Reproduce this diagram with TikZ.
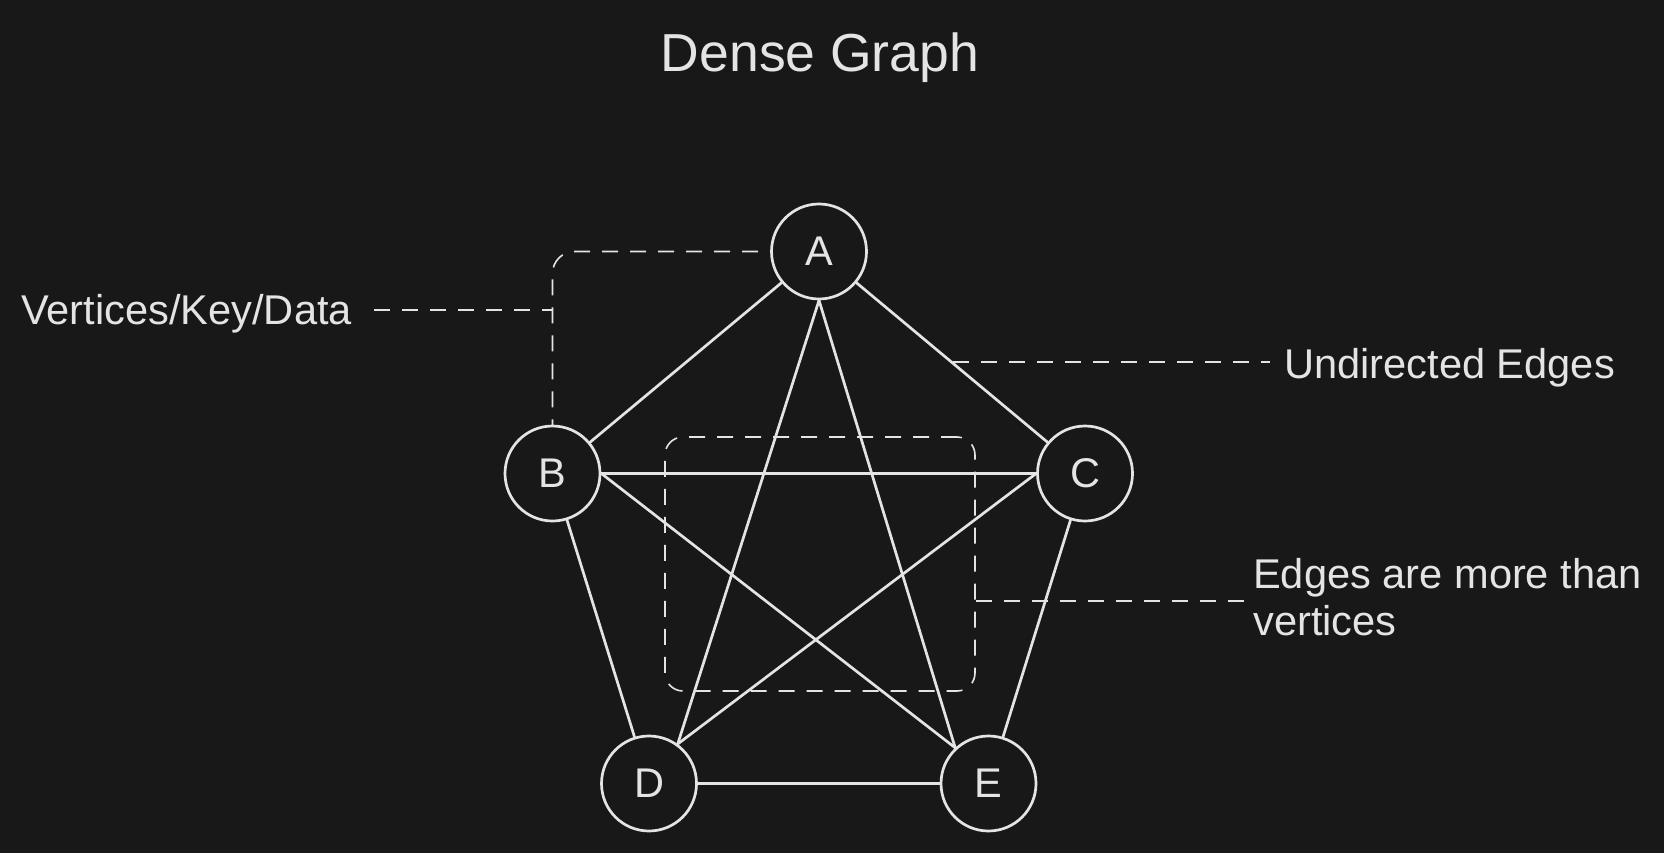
\documentclass[tikz,border=0pt]{standalone}
\usepackage{fontspec}
\setmainfont{Liberation Sans}
\definecolor{bg}{HTML}{181818}
\definecolor{fg}{HTML}{E4E4E4}
\begin{document}
\begin{tikzpicture}[x=1pt,y=-1pt,
  vtx/.style={circle,draw=fg,line width=2.7pt,minimum size=95pt,inner sep=0pt,text=fg,font=\fontsize{41.5}{50}\selectfont},
  edge/.style={draw=fg,line width=2.7pt,line cap=round},
  dashln/.style={draw=fg,line width=1.6pt,dash pattern=on 16pt off 12pt},
  lbl/.style={text=fg,inner sep=0pt,font=\fontsize{41.6}{47}\selectfont},
  grpbox/.style={draw=fg,line width=1.6pt,dash pattern=on 16pt off 12pt,rounded corners=18pt,minimum width=310pt,minimum height=254pt,inner sep=0pt}]
\fill[bg] (0,0) rectangle (1664,853);
\useasboundingbox (0,0) rectangle (1664,853);

% title
\node[text=fg,inner sep=0pt,anchor=base,font=\fontsize{53.5}{60}\selectfont] (title) at (820,72) {Dense Graph};

% vertices
\node[vtx] (A) at (819,251.5) {A};
\node[vtx] (B) at (552.5,473.5) {B};
\node[vtx] (C) at (1085,473.5) {C};
\node[vtx] (D) at (649,783.5) {D};
\node[vtx] (E) at (988.5,783.5) {E};

% edges
\draw[edge] (A) -- (B);
\draw[edge] (A) -- (C);
\draw[edge] (A.south) -- (D.54);
\draw[edge] (A.south) -- (E.133);
\draw[edge] (B.east) -- (C.west);
\draw[edge] (B) -- (D);
\draw[edge] (B.east) -- (E.133);
\draw[edge] (C.west) -- (D.54);
\draw[edge] (C) -- (E);
\draw[edge] (D) -- (E);

% group box
\node[grpbox] (grp) at (820,564) {};

% labels
\node[lbl,anchor=base west] (vk) at (21,324) {Vertices/Key/Data};
\node[lbl,anchor=base west] (ue) at (1284,378) {Undirected Edges};
\node[lbl,anchor=base west] (em1) at (1253,588) {Edges are more than};
\node[lbl,anchor=base west] (em2) at (1253,635) {vertices};

% annotation connectors
\coordinate (vkS) at (374,310);
\coordinate (vkE) at (553,310);
\draw[dashln] (vkS) -- (vkE);
\draw[dashln,rounded corners=22pt] ([xshift=-12pt]A.west) -| ([yshift=-1pt]B.north);

\coordinate (ueS) at (953,362);
\coordinate (ueE) at (1270,362);
\draw[dashln] (ueS) -- (ueE);

\coordinate (emE) at (1247,601);
\draw[dashln] (grp.east |- emE) -- (emE);
\end{tikzpicture}
\end{document}
